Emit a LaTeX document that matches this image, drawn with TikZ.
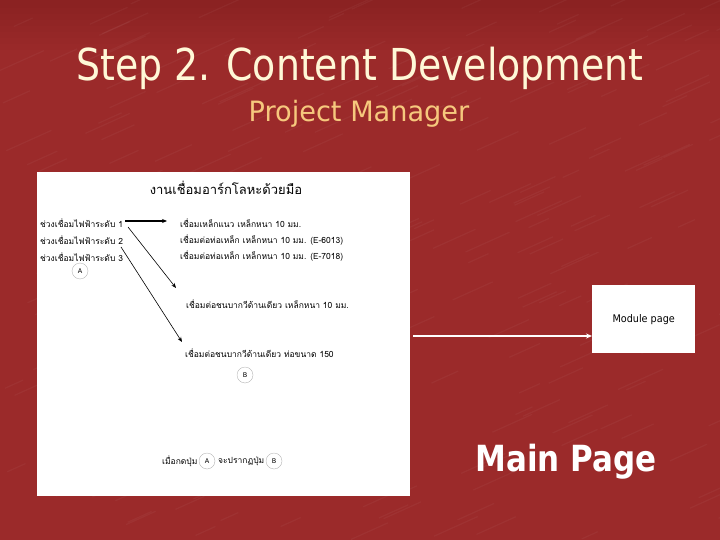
\documentclass[tikz,border=0pt]{standalone}
\usepackage{fontspec}
\usepackage{graphicx}
\setmainfont{DejaVu Sans}
\newfontfamily\thai[Script=Thai]{Loma}
\usetikzlibrary{arrows.meta,calc}
\definecolor{bgred}{RGB}{155,42,42}
\definecolor{titlecol}{RGB}{255,248,215}
\definecolor{subcol}{RGB}{246,200,125}
\tikzset{
  thaitext/.style={anchor=west,inner sep=0pt,font=\thai\fontsize{8.5}{9}\selectfont},
  letterc/.style={circle,draw=black!45,very thin,minimum size=16pt,inner sep=0pt,font=\fontsize{6.5}{7}\selectfont},
  blackarrow/.style={-{Stealth[length=5pt,width=4pt]},black,line width=0.6pt},
}
\begin{document}
\begin{tikzpicture}[x=1pt,y=-1pt]
\useasboundingbox (0,0) rectangle (720,540);
\fill[bgred] (0,0) rectangle (720,540);
\foreach \k in {0,...,7}{
  \fill[black,opacity=0.012] (0,0) rectangle (720,8+6*\k);
}
\pgfmathsetseed{7}
\foreach \i in {1,...,260}{
  \pgfmathsetmacro{\px}{rnd*720}
  \pgfmathsetmacro{\py}{rnd*540}
  \pgfmathsetmacro{\pl}{15+rnd*35}
  \draw[white,opacity=0.04,line width=1.2pt] (\px,\py) -- ++(\pl,-0.45*\pl);
}
% titles
\node[text=titlecol,font=\fontsize{44}{48}\selectfont,inner sep=0pt] (title) at (360,68) {\scalebox{0.86}[1]{Step 2. Content Development}};
\node[text=subcol,font=\fontsize{28}{32}\selectfont,inner sep=0pt] (subtitle) at (359,114) {\scalebox{0.97}[1]{Project Manager}};
% panel
\node[fill=white,minimum width=373pt,minimum height=324pt,inner sep=0pt,anchor=north west] (panel) at (37,172) {};
\node[font=\thai\fontsize{13}{14}\selectfont,inner sep=0pt] (ptitle) at (226,188) {งานเชื่อมอาร์กโลหะด้วยมือ};
\node[thaitext] (l1) at (40,223) {ช่วงเชื่อมไฟฟ้าระดับ 1};
\node[thaitext] (l2) at (40,240) {ช่วงเชื่อมไฟฟ้าระดับ 2};
\node[thaitext] (l3) at (40,257) {ช่วงเชื่อมไฟฟ้าระดับ 3};
\node[letterc] (ca) at (80,271) {A};
\node[thaitext] (r1) at (180,223) {เชื่อมเหล็กแนว เหล็กหนา 10 มม.};
\node[thaitext] (r2) at (180,240) {เชื่อมต่อท่อเหล็ก เหล็กหนา 10 มม. (E-6013)};
\node[thaitext] (r3) at (180,256) {เชื่อมต่อท่อเหล็ก เหล็กหนา 10 มม. (E-7018)};
\node[thaitext] (r4) at (186,304) {เชื่อมต่อชนบากวีด้านเดียว เหล็กหนา 10 มม.};
\node[thaitext] (r5) at (185,353) {เชื่อมต่อชนบากวีด้านเดียว ท่อขนาด 150};
\node[letterc] (cb) at (245,375) {B};
\node[thaitext] (b1) at (162,461) {เมื่อกดปุ่ม};
\node[letterc] (ba) at (207,461) {A};
\node[thaitext] (b2) at (218,461) {จะปรากฏปุ่ม};
\node[letterc] (bb) at (274,461) {B};
% arrows in panel
\coordinate (a1s) at (125,221);
\coordinate (a1e) at (167,221);
\coordinate (a2s) at (128,227);
\coordinate (a2e) at (176,288);
\coordinate (a3s) at (121,247);
\coordinate (a3e) at (182,342);
\draw[blackarrow,line width=1.3pt] (a1s) -- (a1e);
\draw[blackarrow] (a2s) -- (a2e);
\draw[blackarrow] (a3s) -- (a3e);
% module page
\node[fill=white,minimum width=103pt,minimum height=68pt,inner sep=0pt,font=\fontsize{10.5}{12}\selectfont,anchor=north west] (module) at (592,285) {\scalebox{0.92}[1]{Module page}};
\coordinate (mstart) at (413,336);
\draw[white,line width=1.1pt,-{Stealth[length=6pt,width=5pt]}] (mstart) -- (mstart -| module.west);
% main page
\node[text=white,font=\bfseries\fontsize{36}{40}\selectfont,inner sep=0pt] (main) at (566,462) {\scalebox{0.86}[1]{Main Page}};
\end{tikzpicture}
\end{document}
